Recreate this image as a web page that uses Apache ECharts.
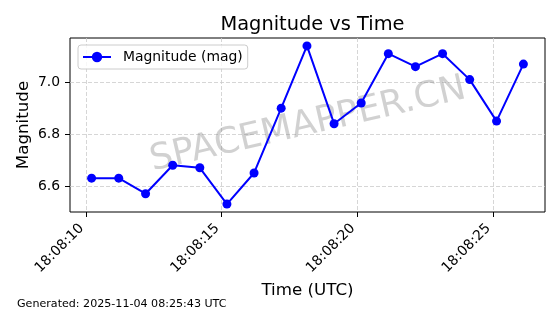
<!DOCTYPE html>
<html>
<head>
<meta charset="utf-8">
<script src="https://cdn.jsdelivr.net/npm/echarts@6/dist/echarts.min.js"></script>
<style>html,body{margin:0;padding:0;background:#fff;}#c{width:560px;height:314px;}</style>
</head>
<body>
<div id="c"></div>
<script>
// Data: seconds after 18:08:00 UTC and magnitudes
const timeSeconds = [10.21, 11.21, 12.20, 13.20, 14.20, 15.20, 16.20, 17.20, 18.15, 19.15, 20.15, 21.15, 22.15, 23.15, 24.15, 25.14, 26.13];
const magnitudes = [6.63, 6.63, 6.57, 6.68, 6.67, 6.53, 6.65, 6.90, 7.14, 6.84, 6.92, 7.11, 7.06, 7.11, 7.01, 6.85, 7.07];
const xTickSeconds = [10, 15, 20, 25];
const yTickValues = [6.6, 6.8, 7.0];
const timePrefix = '18:08:';

const FONT = 'DejaVu Sans';
const chart = echarts.init(document.getElementById('c'), null, {renderer: 'canvas'});
const seriesData = timeSeconds.map((t, i) => [t, magnitudes[i]]);

chart.setOption({
  animation: false,
  backgroundColor: '#fff',
  title: {
    text: 'Magnitude vs Time',
    left: 307.5, top: 10, textAlign: 'center',
    textStyle: {fontFamily: FONT, fontSize: 19.4, fontWeight: 'normal', color: '#000'}
  },
  legend: {
    left: 78, top: 45,
    padding: [5, 5, 5, 4],
    itemWidth: 28, itemHeight: 13,
    backgroundColor: 'rgba(255,255,255,0.8)',
    borderColor: '#cccccc', borderWidth: 1, borderRadius: 3,
    textStyle: {fontFamily: FONT, fontSize: 13.9, color: '#000', padding: [0, 0, 0, 7]},
    data: ['Magnitude (mag)']
  },
  grid: {
    left: 70, right: 15, top: 38, bottom: 102,
    show: true, borderColor: '#000', borderWidth: 1, backgroundColor: 'transparent'
  },
  xAxis: {
    type: 'value',
    min: 9.414, max: 26.926,
    splitNumber: 4,
    name: 'Time (UTC)', nameLocation: 'middle', nameGap: 66,
    nameTextStyle: {fontFamily: FONT, fontSize: 16.7, color: '#000'},
    axisLine: {show: false},
    axisTick: {show: true, length: 5, lineStyle: {color: '#000', width: 1}, customValues: xTickSeconds},
    axisLabel: {
      customValues: xTickSeconds,
      rotate: 45, margin: 10,
      padding: [0, 6, 0, 0],
      fontFamily: FONT, fontSize: 13.9, color: '#000',
      formatter: v => timePrefix + String(Math.round(v)).padStart(2, '0')
    },
    splitLine: {show: true, lineStyle: {color: '#cccccc', width: 0.8, type: [4, 2]}}
  },
  yAxis: {
    type: 'value',
    min: 6.4995, max: 7.1705,
    splitNumber: 3,
    name: 'Magnitude', nameLocation: 'middle', nameGap: 38,
    nameMoveOverlap: false,
    nameTextStyle: {fontFamily: FONT, fontSize: 16.7, color: '#000'},
    axisLine: {show: false},
    axisTick: {show: true, length: 5, lineStyle: {color: '#000', width: 1}, customValues: yTickValues},
    axisLabel: {
      customValues: yTickValues,
      margin: 10,
      fontFamily: FONT, fontSize: 13.9, color: '#000',
      formatter: v => v.toFixed(1)
    },
    splitLine: {show: true, lineStyle: {color: '#cccccc', width: 0.8, type: [4, 2]}}
  },
  graphic: [
    {
      type: 'text', x: 308, y: 125, z: 1,
      rotation: 13 * Math.PI / 180,
      style: {
        text: 'SPACEMAPPER.CN', fontFamily: FONT, fontSize: 36,
        fill: 'rgba(128,128,128,0.36)', align: 'center', verticalAlign: 'middle'
      }
    },
    {
      type: 'text', left: 17, top: 299,
      style: {text: 'Generated: 2025-11-04 08:25:43 UTC', fontFamily: FONT, fontSize: 11.1, fill: '#000'}
    }
  ],
  series: [{
    name: 'Magnitude (mag)',
    type: 'line',
    data: seriesData,
    symbol: 'circle', symbolSize: 9,
    z: 3,
    lineStyle: {color: '#0000ff', width: 2},
    itemStyle: {color: '#0000ff'}
  }]
});
</script>
</body>
</html>
